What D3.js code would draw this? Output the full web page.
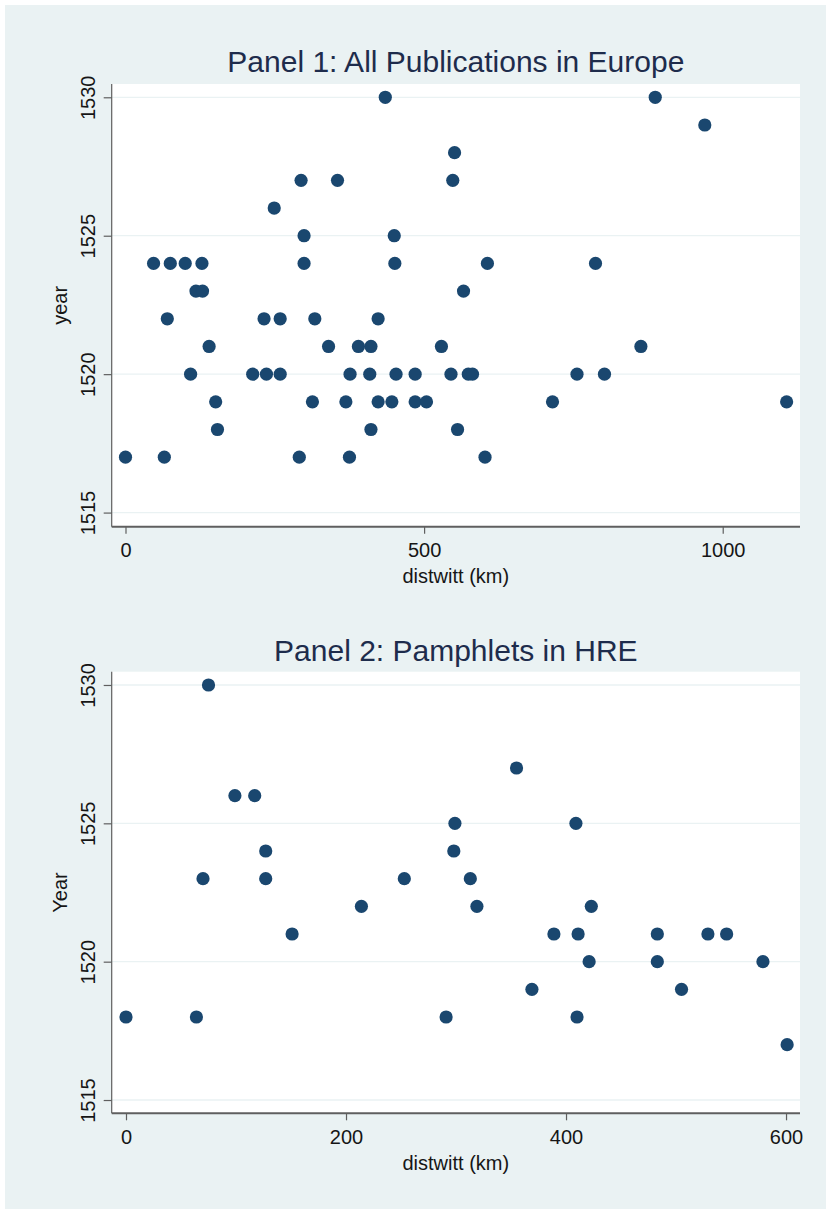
<!DOCTYPE html>
<html>
<head>
<meta charset="utf-8">
<script src="https://cdn.jsdelivr.net/npm/d3@7"></script>
<style>
  html, body { margin: 0; padding: 0; background: #ffffff; }
  svg { display: block; }
  text { font-family: "Liberation Sans", Arial, Helvetica, sans-serif; }
</style>
</head>
<body>
<svg id="chart" width="831" height="1214"></svg>
<script>
// ---- Data ----
const panelTitles = ["Panel 1: All Publications in Europe", "Panel 2: Pamphlets in HRE"];
const yAxisTitles = ["year", "Year"];
const xAxisTitle = "distwitt (km)";
const yTicks = [1515, 1520, 1525, 1530];
const p1XTicks = [0, 500, 1000];
const p2XTicks = [0, 200, 400, 600];

// Panel 1: all publications in Europe
const p1Dist = [
  435, 887,
  970,
  551,
  294, 355, 548,
  249,
  299, 450,
  47, 75, 100, 128, 299, 451, 606, 787,
  118, 129, 566,
  70, 232, 259, 317, 423,
  140, 340, 390, 411, 529, 863,
  109, 213, 236, 259, 376, 409, 453, 485, 545, 574, 581, 756, 802,
  151, 313, 369, 423, 446, 485, 504, 715, 1107,
  154, 411, 556,
  0, 65, 291, 375, 602
];
const p1Year = [
  1530, 1530,
  1529,
  1528,
  1527, 1527, 1527,
  1526,
  1525, 1525,
  1524, 1524, 1524, 1524, 1524, 1524, 1524, 1524,
  1523, 1523, 1523,
  1522, 1522, 1522, 1522, 1522,
  1521, 1521, 1521, 1521, 1521, 1521,
  1520, 1520, 1520, 1520, 1520, 1520, 1520, 1520, 1520, 1520, 1520, 1520, 1520,
  1519, 1519, 1519, 1519, 1519, 1519, 1519, 1519, 1519,
  1518, 1518, 1518,
  1517, 1517, 1517, 1517, 1517
];

// Panel 2: pamphlets in HRE
const p2Dist = [
  75,
  355,
  99, 117,
  299, 409,
  127, 298,
  70, 127, 253, 313,
  214, 319, 423,
  151, 389, 411, 483, 529, 546,
  421, 483, 579,
  369, 505,
  0, 64, 291, 410,
  601
];
const p2Year = [
  1530,
  1527,
  1526, 1526,
  1525, 1525,
  1524, 1524,
  1523, 1523, 1523, 1523,
  1522, 1522, 1522,
  1521, 1521, 1521, 1521, 1521, 1521,
  1520, 1520, 1520,
  1519, 1519,
  1518, 1518, 1518, 1518,
  1517
];

// ---- Drawing ----
const W = 831, H = 1214;
const svg = d3.select("#chart");

const bgColor = "#EAF2F3";
const markerColor = "#1A476F";
const gridColor = "#EAF2F3";
const axisColor = "#5f5f5f";
const titleColor = "#1e2c4c";
const textColor = "#161616";

svg.append("rect").attr("x", 0).attr("y", 0).attr("width", W).attr("height", H).attr("fill", "#ffffff");
svg.append("rect").attr("x", 5).attr("y", 5).attr("width", W - 10).attr("height", H - 10).attr("fill", bgColor);

const panels = [
  { title: panelTitles[0], ytitle: yAxisTitles[0], dist: p1Dist, year: p1Year, xticks: p1XTicks,
    x0: 111.7, x1: 800, y0: 84, y1: 526.7, xdom: [-23.1, 1129.4], ydom: [1514.49, 1530.48], titleY: 72 },
  { title: panelTitles[1], ytitle: yAxisTitles[1], dist: p2Dist, year: p2Year, xticks: p2XTicks,
    x0: 111.7, x1: 800, y0: 671.7, y1: 1113.3, xdom: [-13, 612.7], ydom: [1514.52, 1530.48], titleY: 661 }
];

panels.forEach(p => {
  const g = svg.append("g");
  const x = d3.scaleLinear().domain(p.xdom).range([p.x0, p.x1]);
  const y = d3.scaleLinear().domain(p.ydom).range([p.y1, p.y0]);

  // plot region
  g.append("rect").attr("x", p.x0).attr("y", p.y0)
    .attr("width", p.x1 - p.x0).attr("height", p.y1 - p.y0).attr("fill", "#ffffff");

  // gridlines
  g.append("g").selectAll("line").data(yTicks).join("line")
    .attr("x1", p.x0).attr("x2", p.x1)
    .attr("y1", d => y(d)).attr("y2", d => y(d))
    .attr("stroke", gridColor).attr("stroke-width", 1.3);

  // Y axis
  const yAxis = g.append("g").attr("transform", `translate(${p.x0},0)`)
    .call(d3.axisLeft(y).tickValues(yTicks).tickSize(8).tickPadding(0).tickFormat(d3.format("d")));
  yAxis.select(".domain").attr("stroke", axisColor).attr("stroke-width", 1.2)
    .attr("d", `M0,${p.y0}V${p.y1}`);
  yAxis.selectAll(".tick line").attr("stroke", axisColor).attr("stroke-width", 1.2);
  yAxis.selectAll(".tick text")
    .attr("x", 0).attr("dy", 0)
    .attr("transform", "translate(-16.7,0) rotate(-90)")
    .attr("text-anchor", "middle")
    .attr("font-size", 20).attr("fill", textColor);

  // X axis
  const xAxis = g.append("g").attr("transform", `translate(0,${p.y1})`)
    .call(d3.axisBottom(x).tickValues(p.xticks).tickSize(7).tickPadding(0).tickFormat(d3.format("d")));
  xAxis.select(".domain").attr("stroke", axisColor).attr("stroke-width", 2)
    .attr("d", `M${p.x0},0H${p.x1}`);
  xAxis.selectAll(".tick line").attr("stroke", axisColor).attr("stroke-width", 1.2);
  xAxis.selectAll(".tick text")
    .attr("y", 30.5).attr("dy", 0)
    .attr("font-size", 20).attr("fill", textColor);

  // axis titles
  const cx = (p.x0 + p.x1) / 2, cy = (p.y0 + p.y1) / 2;
  g.append("text").text(xAxisTitle)
    .attr("x", cx).attr("y", p.y1 + 56.5)
    .attr("text-anchor", "middle").attr("font-size", 20).attr("fill", textColor);
  g.append("text").text(p.ytitle)
    .attr("transform", `translate(67,${cy}) rotate(-90)`)
    .attr("text-anchor", "middle").attr("font-size", 20).attr("fill", textColor);

  // panel title
  g.append("text").text(p.title)
    .attr("x", cx).attr("y", p.titleY)
    .attr("text-anchor", "middle").attr("font-size", 30).attr("fill", titleColor);

  // markers
  g.append("g").selectAll("circle").data(p.dist.map((d, i) => [d, p.year[i]])).join("circle")
    .attr("cx", d => x(d[0])).attr("cy", d => y(d[1]))
    .attr("r", 6.6).attr("fill", markerColor);
});
</script>
</body>
</html>
